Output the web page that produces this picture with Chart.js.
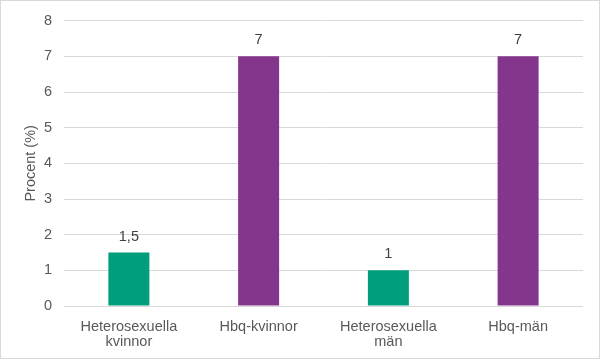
<!DOCTYPE html>
<html><head><meta charset="utf-8">
<script src="https://cdn.jsdelivr.net/npm/chart.js@4/dist/chart.umd.min.js"></script>
<style>html,body{margin:0;padding:0;background:#fff}#wrap{width:601px;height:360px;position:relative}</style>
</head><body><div id="wrap"><canvas id="c" width="601" height="360"></canvas></div>
<script>
const categories = [["Heterosexuella","kvinnor"],"Hbq-kvinnor",["Heterosexuella","män"],"Hbq-män"];
const values = [1.5, 7, 1, 7];
const barColors = ["#009E7A","#84368C","#009E7A","#84368C"];
const yTicks = [0,1,2,3,4,5,6,7,8];
const FONT = "'Liberation Sans', Arial, sans-serif";

const borderPlugin = {
  id:'border',
  beforeDraw(chart){const c=chart.ctx;c.save();c.fillStyle='#fff';c.fillRect(0,0,chart.width,chart.height);c.restore();},
  afterDraw(chart){const c=chart.ctx;c.save();c.strokeStyle='#d9d9d9';c.lineWidth=1;c.strokeRect(0.5,0.5,599,358);c.restore();}
};
const labelPlugin = {
  id:'vlabels',
  afterDatasetsDraw(chart){
    const c=chart.ctx;const meta=chart.getDatasetMeta(0);
    c.save();c.font="14.5px "+FONT;c.fillStyle='#404040';c.textAlign='center';c.textBaseline='middle';
    meta.data.forEach((b,i)=>{c.fillText(String(values[i]).replace('.',','),b.x,b.y-16);});
    c.restore();
  }
};

new Chart(document.getElementById('c'),{
  type:'bar',
  data:{labels:categories,datasets:[{data:values,backgroundColor:barColors,barPercentage:0.316,categoryPercentage:1}]},
  options:{
    responsive:false,animation:false,devicePixelRatio:1,
    layout:{padding:{left:0,right:18,top:16,bottom:0}},
    plugins:{legend:{display:false},tooltip:{enabled:false}},
    scales:{
      x:{grid:{display:false},border:{display:false},
         ticks:{color:'#595959',font:{family:FONT,size:14.5,lineHeight:1.05},padding:5,maxRotation:0,autoSkip:false},
         afterFit(s){s.height=54;}},
      y:{min:0,max:8,afterBuildTicks(s){s.ticks=yTicks.map(v=>({value:v}));},
         grid:{color:'#d9d9d9',lineWidth:1,drawTicks:false},border:{display:false},
         ticks:{color:'#595959',font:{family:FONT,size:14.5},padding:12},
         title:{display:true,text:'Procent (%)',color:'#595959',font:{family:FONT,size:14.5},padding:{top:22,bottom:0}},
         afterFit(s){s.width=64;}}
    }
  },
  plugins:[borderPlugin,labelPlugin]
});
</script></body></html>
